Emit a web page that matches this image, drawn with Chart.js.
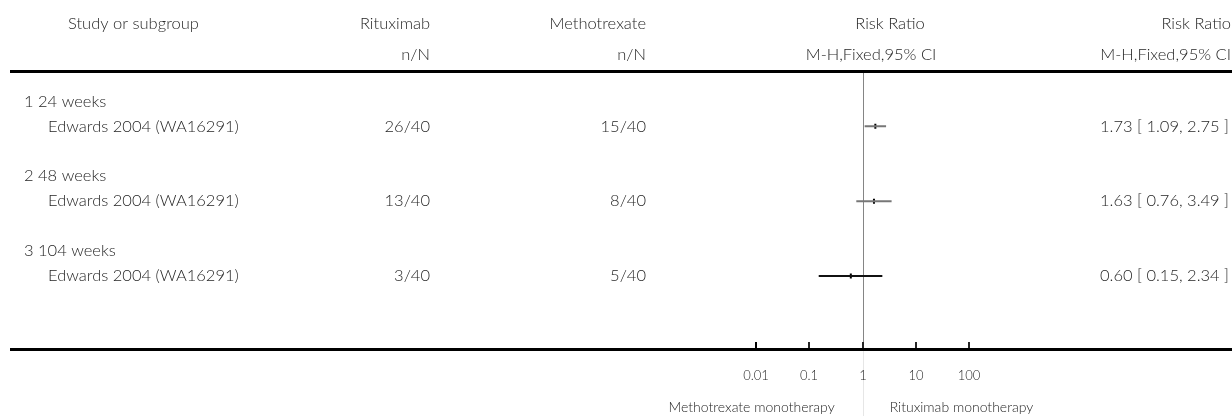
<!DOCTYPE html>
<html>
<head>
<meta charset="utf-8">
<title>Risk Ratio forest plot</title>
<script src="https://cdn.jsdelivr.net/npm/chart.js@4.4.1/dist/chart.umd.min.js"></script>
<style>
  html, body { margin: 0; padding: 0; background: #fff; }
  #wrap { width: 1232px; height: 416px; }
</style>
</head>
<body>
<div id="wrap"><canvas id="forest" width="1232" height="416"></canvas></div>
<script>
// Table content
const subgroups = ['1 24 weeks', '2 48 weeks', '3 104 weeks'];
const studies = ['Edwards 2004 (WA16291)', 'Edwards 2004 (WA16291)', 'Edwards 2004 (WA16291)'];
const rituximabEvents = ['26/40', '13/40', '3/40'];
const methotrexateEvents = ['15/40', '8/40', '5/40'];

// Risk ratio estimates with 95% CI
const riskRatio = [1.73, 1.63, 0.60];
const ciLower = [1.09, 0.76, 0.15];
const ciUpper = [2.75, 3.49, 2.34];

// Axis ticks and side labels
const tickValues = [0.01, 0.1, 1, 10, 100];
const tickLabels = ['0.01', '0.1', '1', '10', '100'];
const favoursLeft = 'Methotrexate monotherapy';
const favoursRight = 'Rituximab monotherapy';

const FONT = '"Lato", "Open Sans", sans-serif';
const TEXT = '#262626';
const ciColors = ['#777777', '#777777', '#111111'];

const rowIndex = riskRatio.map((_, i) => i + 1);

const datasets = [];
rowIndex.forEach((r, i) => {
  datasets.push({
    type: 'line',
    data: [{ x: ciLower[i], y: r }, { x: ciUpper[i], y: r }],
    borderColor: ciColors[i],
    borderWidth: 2,
    pointRadius: 0,
    fill: false
  });
});
datasets.push({
  type: 'scatter',
  data: rowIndex.map((r, i) => ({ x: riskRatio[i], y: r })),
  pointStyle: 'line',
  rotation: 90,
  pointRadius: 2.5,
  borderWidth: 2,
  borderColor: '#000',
  backgroundColor: '#000'
});

function text(ctx, str, x, y, align, size) {
  ctx.font = '300 ' + (size || 16.5) + 'px ' + FONT;
  ctx.textAlign = align;
  ctx.textBaseline = 'middle';
  ctx.fillStyle = TEXT;
  ctx.fillText(str, x, y);
}

const tablePlugin = {
  id: 'forestTable',
  beforeDatasetsDraw(chart) {
    const { ctx, chartArea, scales } = chart;
    const xs = scales.x;
    const x1 = Math.round(xs.getPixelForValue(1)) + 0.5;
    ctx.save();
    // line of no effect
    ctx.strokeStyle = '#858585';
    ctx.lineWidth = 1;
    ctx.beginPath();
    ctx.moveTo(x1, chartArea.top);
    ctx.lineTo(x1, chartArea.bottom);
    ctx.stroke();
    ctx.strokeStyle = '#e6e6e6';
    ctx.beginPath();
    ctx.moveTo(x1, chartArea.bottom);
    ctx.lineTo(x1, chart.height);
    ctx.stroke();
    ctx.restore();
  },
  afterDraw(chart) {
    const { ctx, chartArea, scales } = chart;
    const xs = scales.x;
    const ys = scales.y;
    ctx.save();

    // header
    text(ctx, 'Study or subgroup', 68, 24, 'left');
    text(ctx, 'Rituximab', 430, 24, 'right');
    text(ctx, 'n/N', 430, 55, 'right');
    text(ctx, 'Methotrexate', 646, 24, 'right');
    text(ctx, 'n/N', 646, 55, 'right');
    text(ctx, 'Risk Ratio', 890, 24, 'center');
    text(ctx, 'M-H,Fixed,95% CI', 871, 55, 'center');
    text(ctx, 'Risk Ratio', 1231, 24, 'right');
    text(ctx, 'M-H,Fixed,95% CI', 1231, 55, 'right');

    // rules
    ctx.fillStyle = '#000';
    ctx.fillRect(10, chartArea.top - 3, chart.width - 10, 3);
    ctx.fillRect(10, chartArea.bottom, chart.width - 10, 3);

    // rows
    rowIndex.forEach((r, i) => {
      const y = ys.getPixelForValue(r);
      text(ctx, subgroups[i], 24, y - 25, 'left');
      text(ctx, studies[i], 48, y, 'left');
      text(ctx, rituximabEvents[i], 430, y, 'right');
      text(ctx, methotrexateEvents[i], 646, y, 'right');
      const res = riskRatio[i].toFixed(2) + ' [ ' + ciLower[i].toFixed(2) + ', ' + ciUpper[i].toFixed(2) + ' ]';
      text(ctx, res, 1229, y, 'right');
    });

    // axis ticks and labels
    ctx.fillStyle = '#000';
    tickValues.forEach((v, i) => {
      const px = Math.round(xs.getPixelForValue(v));
      ctx.fillRect(px - 1, chartArea.bottom - 6, 2, 6);
      text(ctx, tickLabels[i], px, chartArea.bottom + 28, 'center', 13);
    });
    const x1 = xs.getPixelForValue(1);
    text(ctx, favoursLeft, x1 - 28, chartArea.bottom + 59, 'right', 14);
    text(ctx, favoursRight, x1 + 27, chartArea.bottom + 59, 'left', 14);
    ctx.restore();
  }
};

new Chart(document.getElementById('forest'), {
  data: { datasets },
  options: {
    responsive: false,
    animation: false,
    devicePixelRatio: 1,
    layout: { padding: { left: 756, right: 262.7, top: 73, bottom: 68 } },
    plugins: { legend: { display: false }, tooltip: { enabled: false } },
    scales: {
      x: {
        type: 'logarithmic',
        min: 0.01,
        max: 100,
        display: false
      },
      y: {
        type: 'linear',
        reverse: true,
        min: 0.29,
        max: 3.96,
        display: false
      }
    }
  },
  plugins: [tablePlugin]
});
</script>
</body>
</html>
